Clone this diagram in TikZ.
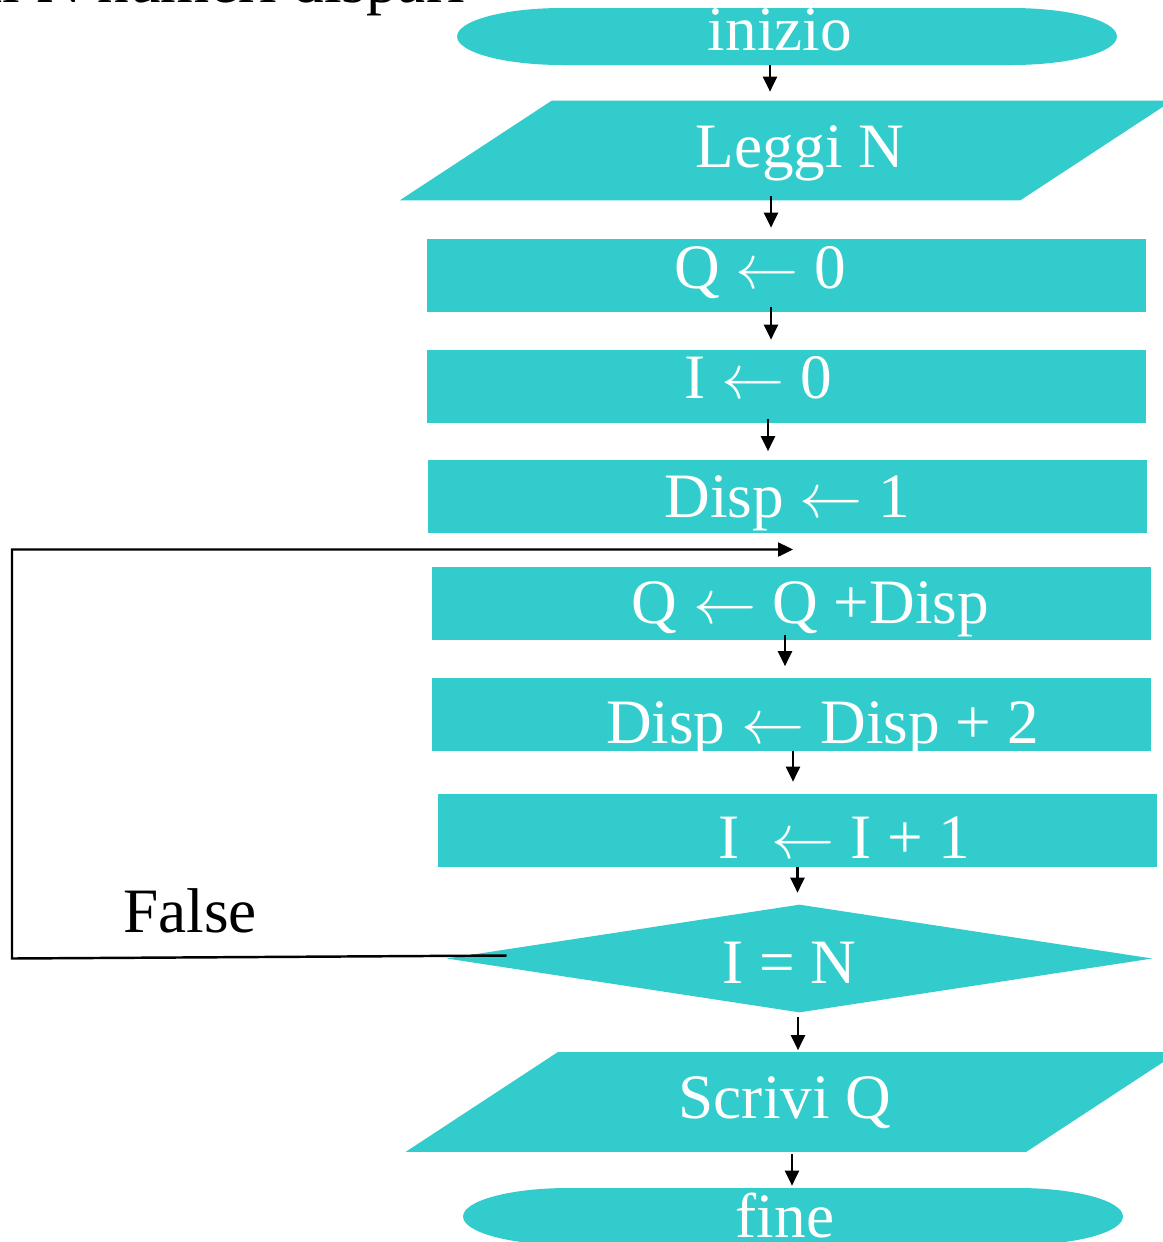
\RequirePackage{fix-cm}
\documentclass[tikz,border=0pt]{standalone}
\usepackage{fontspec}
\setmainfont{Liberation Serif}
\usetikzlibrary{positioning,arrows.meta,calc,backgrounds}
\definecolor{flowcyan}{HTML}{33CCCC}
\newcommand\bigfont{\fontsize{36}{40}\selectfont}
% riempimenti dei blocchi di input/output e di test
\newcommand\iofill[1]{\fill[flowcyan] ([xshift=-1.52cm]#1.south west) -- ([xshift=1.52cm]#1.north west)
  -- ([xshift=1.52cm]#1.north east) -- ([xshift=-1.52cm]#1.south east) -- cycle;}
\newcommand\testfill[1]{\fill[flowcyan] (#1.north) -- (#1.east) -- (#1.south) -- (#1.west) -- cycle;}
\tikzset{
  base/.style={text=white,inner sep=0pt,font=\bigfont,text depth=0pt},
  procbox/.style={base,fill=flowcyan,minimum width=14.38cm,minimum height=1.46cm},
  iobox/.style={base,minimum width=12.4cm,minimum height=1.98cm},
  testbox/.style={base,minimum width=14.1cm,minimum height=2.14cm},
  termbox/.style={base,minimum width=13.2cm,minimum height=1.14cm,
    path picture={\fill[flowcyan]
      ([xshift=2.1cm]path picture bounding box.north west)
      -- ([xshift=-2.1cm]path picture bounding box.north east)
      arc[start angle=90,end angle=-90,x radius=2.1cm,y radius=0.57cm]
      -- ([xshift=2.1cm]path picture bounding box.south west)
      arc[start angle=270,end angle=90,x radius=2.1cm,y radius=0.57cm] -- cycle;}},
  flowarr/.style={-{Triangle[length=0.3cm,width=0.28cm]},line width=1.4pt}
}

\begin{document}
\begin{tikzpicture}[x=0.02cm,y=-0.02cm]
  \useasboundingbox (0,0) rectangle (1163,1242);
  \clip (0,0) rectangle (1163,1242);
  % titolo (tagliato in alto)
  \node[anchor=base east,inner sep=0pt,font=\bigfont] (titolo) at (465,2) {primi N numeri dispari};
  % blocchi
  \node[termbox,text height=0.54cm] (inizio) at (787,36.5) {inizio\hspace*{0.28cm}};
  \node[iobox,text height=0.66cm] (leggi) at (786,150.5) {\hspace*{0.56cm}Leggi N};
  \node[procbox,text height=0.5cm] (q0) at (786.5,275.5) {Q $\leftarrow$ 0\hspace*{1.04cm}};
  \node[procbox,text height=0.46cm] (i0) at (786.5,386.5) {I $\leftarrow$ 0\hspace*{1.12cm}};
  \node[procbox,text height=0.84cm] (disp) at (787.5,496) {Disp $\leftarrow$ 1};
  \node[procbox,text height=0.8cm] (qdisp) at (791.5,603) {\hspace*{0.76cm}Q $\leftarrow$ Q +Disp};
  \node[procbox,text height=1.16cm] (ddisp) at (791.5,714) {\hspace*{1.24cm}Disp $\leftarrow$ Disp + 2};
  \node[procbox,text height=1.1cm] (incr) at (797.5,830.5) {\hspace*{1.88cm}I\enspace $\leftarrow$ I + 1};
  \node[testbox,text height=0.98cm] (test) at (799.5,958.5) {I = N\hspace*{0.4cm}};
  \node[iobox,text height=0.64cm] (scrivi) at (792,1102) {Scrivi Q\hspace*{0.28cm}};
  \node[termbox,text height=0.84cm] (fine) at (793,1216.5) {fine\hspace*{0.32cm}};
  \node[anchor=base,inner sep=0pt,font=\bigfont] (falso) at (190,932) {False};
  \begin{scope}[on background layer]
    \iofill{leggi}
    \iofill{scrivi}
    \testfill{test}
  \end{scope}
  % frecce
  \draw[flowarr,shorten >=0.18cm] ([xshift=-0.34cm]inizio.south) -- ([xshift=-0.34cm]inizio.south |- leggi.north);
  \draw[flowarr,shorten >=0.22cm] ([xshift=-0.3cm,yshift=0.08cm]leggi.south) -- ([xshift=-0.3cm]leggi.south |- q0.north);
  \draw[flowarr,shorten >=0.2cm] ([xshift=-0.31cm,yshift=0.1cm]q0.south) -- ([xshift=-0.31cm]q0.south |- i0.north);
  \draw[flowarr,shorten >=0.16cm] ([xshift=-0.37cm,yshift=0.08cm]i0.south) -- ([xshift=-0.37cm]i0.south |- disp.north);
  \draw[flowarr,shorten >=0.22cm] ([xshift=-0.13cm,yshift=0.1cm]qdisp.south) -- ([xshift=-0.13cm]qdisp.south |- ddisp.north);
  \draw[flowarr,shorten >=0.24cm] ([xshift=0.03cm]ddisp.south) -- ([xshift=0.03cm]ddisp.south |- incr.north);
  \draw[flowarr,shorten >=0.24cm] (incr.south) -- (incr.south |- test.north);
  \draw[flowarr,shorten >=0.04cm,shorten <=0.1cm] ([xshift=-0.03cm]test.south) -- ([xshift=-0.03cm]test.south |- scrivi.north);
  \draw[flowarr,shorten >=0.04cm,shorten <=0.04cm] (scrivi.south) -- (scrivi.south |- fine.north);
  % ritorno (False)
  \coordinate (sx) at (12,0);
  \coordinate (rientro) at ($(disp.south)!0.5!(qdisp.north)$);
  \draw[flowarr] ([xshift=1.2cm,yshift=0.06cm]test.west) -- (sx |- test.west) |- ([xshift=0.07cm]rientro);
\end{tikzpicture}
\end{document}
